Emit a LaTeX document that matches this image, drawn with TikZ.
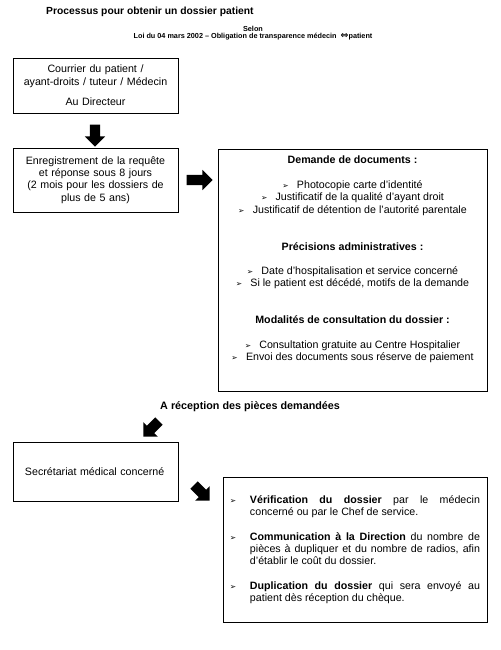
\documentclass[tikz,border=0pt]{standalone}
\usepackage{fontspec}
\setmainfont{Liberation Sans}
\newfontfamily\symfont{DejaVu Sans}
\usetikzlibrary{shapes.arrows}
\newcommand{\puce}{{\symfont\fontsize{6.5}{6.5}\selectfont ➢}}

\begin{document}
\begin{tikzpicture}[x=0.03cm,y=-0.03cm,
  box/.style={draw,line width=0.8pt,minimum width=4.95cm,inner sep=0pt,font=\fontsize{9.1}{10.5}\selectfont},
  bigarrow/.style={single arrow,fill=black,inner sep=0.15cm,single arrow head extend=0.15cm,minimum height=0.66cm},
]
\useasboundingbox (0,0) rectangle (500,650);

%Titre
\node[anchor=west,inner sep=0pt,font=\fontsize{8.8}{11}\selectfont\bfseries] (titre) at (46,12) {Processus pour obtenir un dossier patient};

%Loi
\node[font=\fontsize{6.2}{6}\selectfont\bfseries,align=center] (loi) at (253,33.5) {Selon\\Loi du 04 mars 2002 -- Obligation de transparence médecin\ \ {\symfont\fontsize{8}{6}\selectfont ⇔}patient};

%Courrier
\node[box,minimum height=1.65cm,text width=4.7cm,align=center] (courrier) at (95.5,85.5) {Courrier du patient /\\ayant-droits / tuteur / Médecin\\[7pt]Au Directeur};

%Fleche vers enregistrement
\node[bigarrow,rotate=-90] (f1) at (95,133) {};

%Enregistrement
\node[box,minimum height=1.92cm,text width=4.8cm,align=center] (enregistrement) at (95.5,180) {Enregistrement de la requête\\et réponse sous 8 jours\\(2 mois pour les dossiers de\\plus de 5 ans)};

%Fleche vers demande
\node[bigarrow,minimum height=0.78cm] (f2) at (197,180) {};

%Demande de documents
\node[box,minimum width=8.07cm,minimum height=7.26cm] (demande) at (352.5,270) {};
\node[anchor=north,align=center,inner sep=0pt,font=\fontsize{9.1}{10.5}\selectfont] (demandetexte) at (352.5,156) {%
\textbf{Demande de documents :}\\[10.5pt]
\puce\hspace{7pt}Photocopie carte d'identité\\
\puce\hspace{7pt}Justificatif de la qualité d'ayant droit\\
\puce\hspace{7pt}Justificatif de détention de l'autorité parentale\\[21pt]
\textbf{Précisions administratives :}\\[10.5pt]
\puce\hspace{7pt}Date d'hospitalisation et service concerné\\
\puce\hspace{7pt}Si le patient est décédé, motifs de la demande\\[21pt]
\textbf{Modalités de consultation du dossier :}\\[10.5pt]
\puce\hspace{7pt}Consultation gratuite au Centre Hospitalier\\
\puce\hspace{7pt}Envoi des documents sous réserve de paiement};

%Reception
\node[anchor=west,inner sep=0pt,font=\fontsize{9.2}{10}\selectfont\bfseries] (reception) at (160,407) {A réception des pièces demandées};

%Fleche vers secretariat
\node[bigarrow,rotate=-135] (f3) at (153,427) {};

%Secretariat
\node[box,minimum height=1.77cm,text width=4.23cm,inner xsep=0.36cm,align=left] (secretariat) at (95.5,471.5) {\mbox{Secrétariat médical concerné}};

%Fleche vers verification
\node[bigarrow,rotate=-45] (f4) at (200,491) {};

%Verification
\node[box,minimum width=7.92cm,minimum height=4.35cm,text width=7.5cm,align=justify] (verification) at (355,549.5) {%
\hangindent=0.6cm\hangafter=1\noindent\makebox[0.6cm][l]{\puce}\textbf{Vérification du dossier} par le médecin\linebreak concerné ou par le Chef de service.\par\vspace{10.5pt}
\hangindent=0.6cm\hangafter=1\noindent\makebox[0.6cm][l]{\puce}\textbf{Communication à la Direction} du nombre de\linebreak pièces à dupliquer et du nombre de radios, afin\linebreak d'établir le coût du dossier.\par\vspace{10.5pt}
\hangindent=0.6cm\hangafter=1\noindent\makebox[0.6cm][l]{\puce}\textbf{Duplication du dossier} qui sera envoyé au\linebreak patient dès réception du chèque.\par};

\end{tikzpicture}
\end{document}
